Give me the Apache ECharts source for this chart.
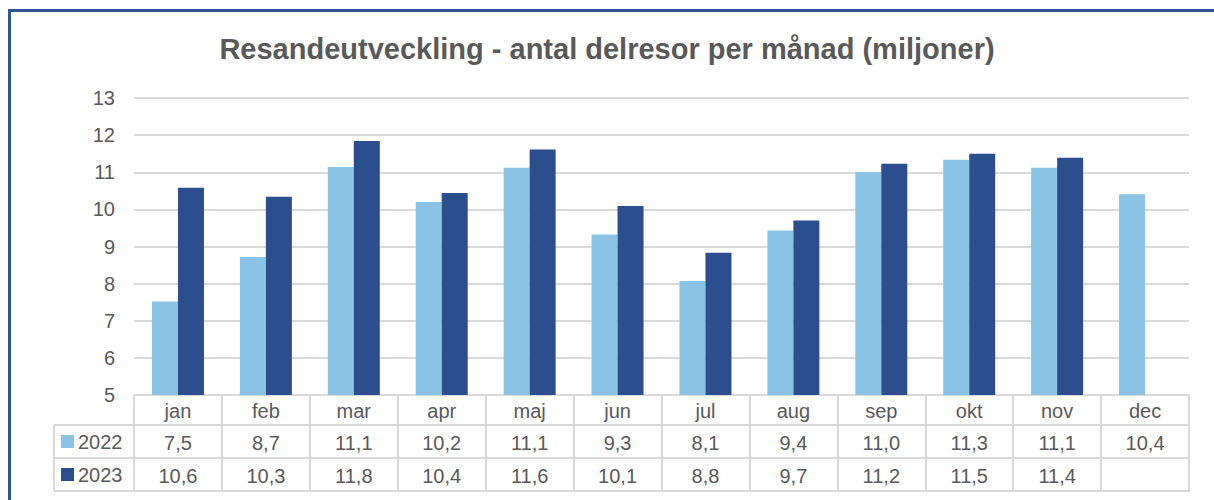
<!DOCTYPE html>
<html>
<head>
<meta charset="utf-8">
<script src="https://cdn.jsdelivr.net/npm/echarts@6/dist/echarts.min.js"></script>
<style>
  html, body { margin: 0; padding: 0; background: #fff; }
  #chart { width: 1214px; height: 500px; }
</style>
</head>
<body>
<div id="chart"></div>
<script>
var months = ['jan', 'feb', 'mar', 'apr', 'maj', 'jun', 'jul', 'aug', 'sep', 'okt', 'nov', 'dec'];
var values2022 = [7.52, 8.72, 11.14, 10.20, 11.12, 9.32, 8.07, 9.43, 11.01, 11.34, 11.12, 10.41];
var values2023 = [10.58, 10.34, 11.84, 10.44, 11.61, 10.09, 8.83, 9.70, 11.23, 11.50, 11.39, null];
var yTicks = [5, 6, 7, 8, 9, 10, 11, 12, 13];

(function() {
  var text = '#595959';
  var rule = '#d9d9d9';
  var light = '#8bc3e6';
  var dark = '#2b4e8c';
  var border = '#2f5597';
  var font = '"Liberation Sans", Arial, sans-serif';

  function fmt(v) {
    return v == null ? '' : v.toFixed(1).replace('.', ',');
  }

  // table rows are drawn as extra category axes stacked under the plot
  function tableAxis(data, offset, height, showLabel) {
    return {
      type: 'category',
      data: data,
      position: 'bottom',
      offset: offset,
      gridIndex: 0,
      axisLine: { show: true, lineStyle: { color: rule, width: 2 } },
      axisTick: { show: true, length: height, lineStyle: { color: rule, width: 2 } },
      axisLabel: {
        show: showLabel,
        interval: 0,
        color: text,
        fontSize: 20,
        fontFamily: font,
        verticalAlign: 'middle',
        margin: height / 2 + 1
      },
      splitLine: { show: false }
    };
  }

  var chart = echarts.init(document.getElementById('chart'), null, { renderer: 'svg' });
  chart.setOption({
    animation: false,
    title: {
      text: 'Resandeutveckling - antal delresor per månad (miljoner)',
      left: 'center',
      top: 29,
      textStyle: { color: text, fontSize: 29, fontWeight: 'bold', fontFamily: font }
    },
    grid: { left: 134, right: 25, top: 98, bottom: 105, containLabel: false },
    xAxis: [
      tableAxis(months, 0, 30, true),
      tableAxis(values2022.map(fmt), 30, 33, true),
      tableAxis(values2023.map(fmt), 63, 33, true),
      tableAxis(months.map(function() { return ''; }), 96, 0, false)
    ],
    yAxis: {
      type: 'value',
      min: yTicks[0],
      max: yTicks[yTicks.length - 1],
      interval: 1,
      axisLine: { show: false },
      axisTick: { show: false },
      axisLabel: { color: text, fontSize: 20, fontFamily: font, margin: 19 },
      splitLine: { lineStyle: { color: rule, width: 2 } }
    },
    series: [
      {
        name: '2022',
        type: 'bar',
        data: values2022,
        barWidth: 26,
        barGap: '0%',
        itemStyle: { color: light }
      },
      {
        name: '2023',
        type: 'bar',
        data: values2023,
        barWidth: 26,
        barGap: '0%',
        itemStyle: { color: dark }
      }
    ],
    graphic: [
      // outer frame (top and left edges)
      { type: 'rect', shape: { x: 8, y: 9, width: 1206, height: 3 }, style: { fill: border } },
      { type: 'rect', shape: { x: 8, y: 9, width: 3, height: 491 }, style: { fill: border } },
      // legend column of the data table
      { type: 'line', shape: { x1: 54, y1: 425, x2: 134, y2: 425 }, style: { stroke: rule, lineWidth: 2 } },
      { type: 'line', shape: { x1: 54, y1: 458, x2: 134, y2: 458 }, style: { stroke: rule, lineWidth: 2 } },
      { type: 'line', shape: { x1: 54, y1: 491, x2: 134, y2: 491 }, style: { stroke: rule, lineWidth: 2 } },
      { type: 'line', shape: { x1: 54, y1: 425, x2: 54, y2: 491 }, style: { stroke: rule, lineWidth: 2 } },
      { type: 'rect', shape: { x: 61, y: 435, width: 13, height: 13 }, style: { fill: light } },
      { type: 'text', x: 78, y: 442, style: { text: '2022', fill: text, fontSize: 20, fontFamily: font, verticalAlign: 'middle' } },
      { type: 'rect', shape: { x: 61, y: 468, width: 13, height: 13 }, style: { fill: dark } },
      { type: 'text', x: 78, y: 475, style: { text: '2023', fill: text, fontSize: 20, fontFamily: font, verticalAlign: 'middle' } }
    ]
  });
})();
</script>
</body>
</html>
